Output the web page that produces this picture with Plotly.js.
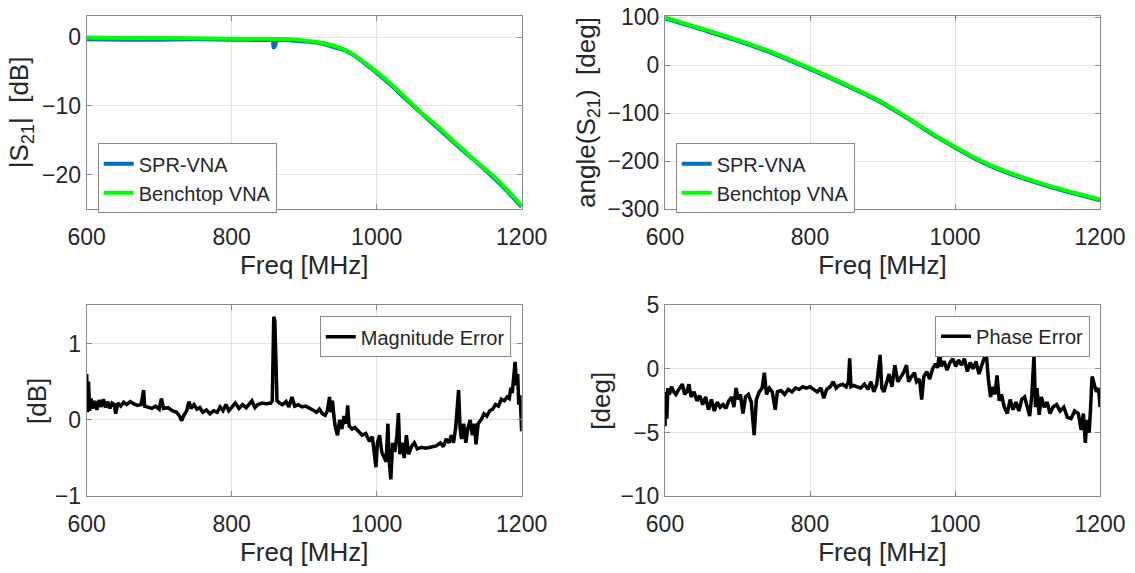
<!DOCTYPE html>
<html>
<head>
<meta charset="utf-8">
<script src="https://cdn.plot.ly/plotly-3.0.1.min.js"></script>
<style>
  body { margin: 0; background: #fff; }
  #graph { width: 1135px; height: 573px; }
</style>
</head>
<body>
<div id="graph"></div>
<script>
// |S21| in dB
const magFreqSpr = [600, 650, 700, 750, 800, 850, 856, 858, 860, 862, 870, 880, 900, 920, 940, 960, 980, 1000, 1020, 1040, 1060, 1080, 1100, 1120, 1140, 1160, 1180, 1200];
const magSpr = [-0.3, -0.35, -0.35, -0.3, -0.35, -0.4, -0.4, -1.5, -1.2, -0.5, -0.4, -0.45, -0.6, -0.85, -1.4, -2.1, -3.5, -5.2, -7.0, -9.0, -10.9, -12.8, -14.7, -16.6, -18.4, -20.3, -22.4, -24.7];
const magFreqBench = [600, 650, 700, 750, 800, 850, 880, 900, 920, 940, 960, 980, 1000, 1020, 1040, 1060, 1080, 1100, 1120, 1140, 1160, 1180, 1200];
const magBench = [-0.05, -0.1, -0.12, -0.15, -0.2, -0.22, -0.3, -0.45, -0.72, -1.2, -2.0, -3.4, -5.0, -6.8, -8.8, -10.8, -12.6, -14.5, -16.4, -18.3, -20.1, -22.2, -24.5];

// angle(S21) in deg
const phFreq = [600, 650, 700, 750, 800, 850, 875, 900, 925, 950, 975, 1000, 1025, 1050, 1075, 1100, 1125, 1150, 1175, 1200];
const phSpr = [98, 75, 51, 24, -8, -42, -60, -79, -102, -126, -150, -172, -193, -211, -226, -239, -251, -262, -272, -282];
const phBench = [100, 77, 53, 26, -6, -40, -58, -77, -100, -124, -148, -170, -191, -209, -224, -237, -249, -260, -270, -280];

// magnitude error in dB
const magErrFreq = [600, 601, 602.5, 604, 606, 608, 611, 614, 617, 620, 623, 626, 629, 632, 635, 638, 640, 643, 647, 651, 655, 660, 665, 670, 675, 677, 678.5, 680, 685, 690, 695, 700, 703, 706, 712, 718, 724, 728, 731, 734, 738, 741, 744, 748, 752, 756, 760, 765, 770, 775, 780, 784, 788, 792, 796, 800, 805, 810, 815, 820, 824, 828, 832, 836, 842, 848, 854, 856, 857, 858, 859.5, 861, 862.5, 866, 870, 875, 879, 883, 887, 892, 897, 902, 907, 912, 917, 921, 925, 929, 932, 935, 937, 939, 941, 943, 946, 949, 952, 955, 958, 960, 962, 966, 970, 975, 980, 985, 990, 994, 997, 999, 1001, 1004, 1007, 1010, 1013, 1015.5, 1017, 1019.5, 1022, 1025, 1028, 1030, 1032, 1035, 1038, 1041, 1044, 1048, 1052, 1056, 1062, 1068, 1075, 1082, 1088, 1092, 1096, 1100, 1103, 1106, 1109, 1111, 1113, 1115, 1117, 1120, 1123, 1126, 1129, 1132, 1135, 1137, 1140, 1144, 1148, 1152, 1156, 1160, 1164, 1168, 1172, 1176, 1180, 1183, 1185, 1187, 1189, 1191, 1193, 1194.5, 1196, 1198, 1200];
const magErr = [0.6, 0.1, 0.5, 0.12, 0.28, 0.15, 0.25, 0.13, 0.26, 0.17, 0.27, 0.16, 0.24, 0.15, 0.22, 0.2, 0.08, 0.22, 0.18, 0.23, 0.2, 0.24, 0.21, 0.19, 0.2, 0.3, 0.39, 0.18, 0.17, 0.15, 0.18, 0.14, 0.28, 0.15, 0.16, 0.12, 0.1, 0.05, -0.01, 0.06, 0.12, 0.24, 0.15, 0.2, 0.14, 0.16, 0.1, 0.13, 0.08, 0.12, 0.1, 0.17, 0.12, 0.2, 0.12, 0.16, 0.22, 0.15, 0.2, 0.16, 0.2, 0.25, 0.16, 0.2, 0.22, 0.21, 0.22, 0.25, 0.8, 1.35, 1.3, 0.6, 0.25, 0.22, 0.2, 0.24, 0.17, 0.3, 0.18, 0.2, 0.17, 0.18, 0.16, 0.13, 0.1, 0.14, 0.08, 0.06, 0.12, 0.3, 0.1, 0.25, 0.05, -0.1, -0.2, 0.0, -0.12, 0.05, -0.05, 0.19, -0.08, -0.12, -0.1, -0.15, -0.2, -0.18, -0.28, -0.22, -0.45, -0.62, -0.3, -0.2, -0.42, -0.5, -0.55, -0.05, -0.5, -0.78, -0.3, -0.42, -0.2, 0.09, -0.45, -0.3, -0.5, -0.2, -0.45, -0.35, -0.3, -0.38, -0.36, -0.37, -0.36, -0.34, -0.3, -0.35, -0.25, -0.3, -0.2, -0.3, -0.1, 0.2, 0.39, -0.1, -0.25, -0.05, -0.3, -0.1, 0.0, -0.2, -0.05, -0.32, -0.05, 0.0, 0.08, 0.05, 0.12, 0.14, 0.2, 0.18, 0.27, 0.25, 0.3, 0.28, 0.42, 0.35, 0.55, 0.76, 0.45, 0.6, 0.2, 0.32, -0.15];

// phase error in deg
const phErrFreq = [600, 601, 602.5, 604, 606, 609, 612, 615, 618, 621, 624, 627, 630, 633, 636, 640, 644, 648, 652, 656, 660, 664, 668, 672, 676, 680, 684, 688, 692, 695, 698, 701, 704, 707.5, 711, 715, 719, 723, 726, 730, 734, 737, 740, 744, 748, 752, 755, 760, 765, 770, 775, 780, 785, 790, 795, 800, 805, 810, 815, 819, 823, 828, 832, 836, 840, 845, 850, 853, 854.7, 856.5, 860, 865, 870, 875, 880, 884, 888, 892, 896.7, 899, 902, 906, 909, 913, 917, 921, 925, 929, 933, 936, 940, 944, 947, 951, 954, 957, 961, 965, 969, 973, 976, 978.7, 981, 985, 989, 993, 997, 1001, 1005, 1009, 1013, 1017, 1021, 1025, 1029, 1033, 1037, 1040, 1043, 1046, 1049, 1052, 1055, 1058, 1061, 1064, 1068, 1072, 1076, 1080, 1084, 1088, 1092, 1096, 1100, 1103, 1106, 1108.9, 1111, 1113, 1116, 1119, 1123, 1127, 1131, 1135, 1140, 1145, 1150, 1155, 1160, 1165, 1170, 1174, 1177, 1179.7, 1182, 1185, 1187, 1189, 1192, 1195, 1198, 1200];
const phErr = [-4.5, -1.8, -3.9, -1.5, -2.0, -1.4, -1.8, -2.0, -1.7, -1.5, -1.2, -2.0, -1.8, -1.2, -2.2, -1.8, -2.5, -2.1, -2.8, -2.2, -3.2, -2.4, -3.3, -2.6, -3.0, -2.8, -3.1, -2.5, -2.2, -3.0, -1.5, -2.4, -2.0, -3.5, -2.2, -2.0, -2.6, -5.2, -2.4, -1.8, -1.5, -0.3, -2.0, -1.5, -1.8, -3.2, -1.8, -1.7, -2.0, -1.6, -1.8, -1.5, -1.6, -1.4, -1.5, -1.4, -1.6, -1.8, -1.5, -2.3, -1.6, -1.4, -1.0, -1.5, -1.3, -1.2, -1.4, -1.0, 0.84, -1.4, -1.3, -1.4, -1.5, -1.2, -1.6, -1.0, -1.8, -1.2, 1.1, -1.5, -1.8, -1.0, -0.4, -1.4, 0.3, -1.0, -0.7, -0.3, 0.3, -1.0, -0.6, -0.3, -1.0, -0.8, -2.4, -0.6, -0.2, -0.8, 0.0, 0.4, 0.1, 1.35, 0.2, 0.6, -0.1, 0.5, 0.8, 0.2, 0.7, 0.3, 0.8, -0.2, 0.5, 0.0, 0.6, -0.4, 0.3, 0.9, 1.3, -0.8, -2.2, -1.4, -2.0, -0.5, -2.5, -2.0, -3.0, -3.5, -2.4, -3.2, -2.6, -3.3, -2.4, -2.2, -3.0, -3.7, -2.0, 1.1, -3.0, -1.5, -3.6, -2.2, -3.0, -2.6, -3.5, -3.0, -2.8, -3.3, -3.0, -3.8, -3.9, -3.3, -3.5, -4.8, -3.5, -5.8, -4.0, -5.0, -3.0, -0.6, -1.2, -1.8, -1.5, -3.0];

const textColor = "#262626";
const fontFamily = "'Liberation Sans', Arial, Helvetica, sans-serif";

drawPlot();

function axisStyle(range, dtick, domain, anchor, title, standoff) {
  return {
    range: range,
    dtick: dtick,
    domain: domain,
    anchor: anchor,
    showgrid: true,
    gridcolor: "#e3e3e3",
    gridwidth: 1,
    zeroline: false,
    showline: true,
    linecolor: "#8a8a8a",
    linewidth: 1,
    mirror: "ticks",
    ticks: "inside",
    ticklen: 5,
    tickcolor: "#8a8a8a",
    tickfont: { size: 23, color: textColor, family: fontFamily },
    title: {
      text: title,
      font: { size: 26, color: textColor, family: fontFamily },
      standoff: standoff,
    },
  };
}

function legendStyle(x, y, xanchor) {
  return {
    x: x,
    y: y,
    xanchor: xanchor,
    yanchor: "top",
    bgcolor: "#ffffff",
    bordercolor: "#8a8a8a",
    borderwidth: 1,
    font: { size: 20, color: textColor, family: fontFamily },
    tracegroupgap: 0,
  };
}

function drawPlot() {
  const left = [0.0764, 0.4596];
  const right = [0.5859, 0.9692];
  const top = [0.6353, 0.9721];
  const bottom = [0.1339, 0.4672];

  const traces = [
    {
      x: magFreqSpr, y: magSpr, xaxis: "x", yaxis: "y",
      mode: "lines", line: { color: "#0072BD", width: 4, shape: "spline" },
      name: "SPR-VNA", legend: "legend",
    },
    {
      x: magFreqBench, y: magBench, xaxis: "x", yaxis: "y",
      mode: "lines", line: { color: "#00FF00", width: 4, shape: "spline" },
      name: "Benchtop VNA", legend: "legend",
    },
    {
      x: phFreq, y: phSpr, xaxis: "x2", yaxis: "y2",
      mode: "lines", line: { color: "#0072BD", width: 4, shape: "spline" },
      name: "SPR-VNA", legend: "legend2",
    },
    {
      x: phFreq, y: phBench, xaxis: "x2", yaxis: "y2",
      mode: "lines", line: { color: "#00FF00", width: 4, shape: "spline" },
      name: "Benchtop VNA", legend: "legend2",
    },
    {
      x: magErrFreq, y: magErr, xaxis: "x3", yaxis: "y3",
      mode: "lines", line: { color: "#000000", width: 3.5 },
      name: "Magnitude Error", legend: "legend3",
    },
    {
      x: phErrFreq, y: phErr, xaxis: "x4", yaxis: "y4",
      mode: "lines", line: { color: "#000000", width: 3.5 },
      name: "Phase Error", legend: "legend4",
    },
  ];

  const layout = {
    width: 1135,
    height: 573,
    margin: { l: 0, r: 0, t: 0, b: 0 },
    paper_bgcolor: "#ffffff",
    plot_bgcolor: "#ffffff",
    font: { family: fontFamily, color: textColor },
    xaxis: axisStyle([600, 1200], 200, left, "y", "Freq [MHz]", 2),
    yaxis: axisStyle([-25, 3.1], 10, top, "x", "|S<sub>21</sub>|  [dB]", 5),
    xaxis2: axisStyle([600, 1200], 200, right, "y2", "Freq [MHz]", 2),
    yaxis2: axisStyle([-300, 103], 100, top, "x2", "angle(S<sub>21</sub>)  [deg]", 4),
    xaxis3: axisStyle([600, 1200], 200, left, "y3", "Freq [MHz]", 2),
    yaxis3: axisStyle([-1, 1.5], 1, bottom, "x3", "[dB]", 0),
    xaxis4: axisStyle([600, 1200], 200, right, "y4", "Freq [MHz]", 2),
    yaxis4: axisStyle([-10, 5], 5, bottom, "x4", "[deg]", 2),
    legend: legendStyle(0.0861, 0.750, "left"),
    legend2: legendStyle(0.5953, 0.750, "left"),
    legend3: legendStyle(0.45, 0.448, "right"),
    legend4: legendStyle(0.9604, 0.449, "right"),
  };

  ["xaxis", "xaxis2", "xaxis3", "xaxis4"].forEach((k) => {
    layout[k].ticklabelstandoff = 7;
  });

  Plotly.newPlot("graph", traces, layout, { displayModeBar: false, staticPlot: true });
}
</script>
</body>
</html>
